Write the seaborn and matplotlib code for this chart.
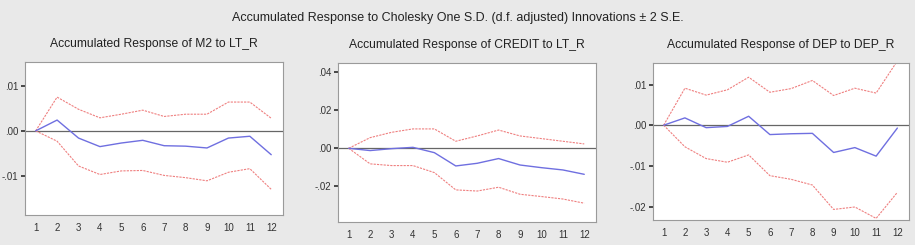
import matplotlib
matplotlib.use("Agg")
import matplotlib.pyplot as plt
import pandas as pd
import seaborn as sns

# Periods (x axis)
periods = list(range(1, 13))

# Panel 1: M2 to LT_R
m2_resp = [0.0, 0.0024, -0.0016, -0.0035, -0.0027, -0.0021, -0.0033, -0.0034, -0.0038, -0.0016, -0.0012, -0.0053]
m2_upper = [0.0, 0.0075, 0.0048, 0.0029, 0.0037, 0.0046, 0.0032, 0.0037, 0.0037, 0.0064, 0.0064, 0.0028]
m2_lower = [0.0, -0.0023, -0.0078, -0.0097, -0.0089, -0.0088, -0.0099, -0.0104, -0.0111, -0.0092, -0.0084, -0.0130]

# Panel 2: CREDIT to LT_R
credit_resp = [0.0, -0.0012, -0.0002, 0.0005, -0.0023, -0.0093, -0.0079, -0.0054, -0.0088, -0.0102, -0.0114, -0.0137]
credit_upper = [0.0, 0.0056, 0.0084, 0.0102, 0.0102, 0.0037, 0.0065, 0.0096, 0.0065, 0.0051, 0.0037, 0.0023]
credit_lower = [0.0, -0.0082, -0.0091, -0.0091, -0.0128, -0.0219, -0.0225, -0.0205, -0.0242, -0.0254, -0.0267, -0.0289]

# Panel 3: DEP to DEP_R
dep_resp = [0.0, 0.0018, -0.0006, -0.0003, 0.0022, -0.0023, -0.0021, -0.0020, -0.0067, -0.0055, -0.0076, -0.0007]
dep_upper = [0.0, 0.0091, 0.0074, 0.0087, 0.0118, 0.0081, 0.0090, 0.0110, 0.0073, 0.0091, 0.0079, 0.0158]
dep_lower = [0.0, -0.0053, -0.0082, -0.0091, -0.0073, -0.0124, -0.0133, -0.0147, -0.0207, -0.0201, -0.0229, -0.0165]

titles = ["Accumulated Response of M2 to LT_R",
          "Accumulated Response of CREDIT to LT_R",
          "Accumulated Response of DEP to DEP_R"]
y_ticks = [[0.01, 0.0, -0.01],
           [0.04, 0.02, 0.0, -0.02],
           [0.01, 0.0, -0.01, -0.02]]
y_ticklabels = [[".01", ".00", "-.01"],
                [".04", ".02", ".00", "-.02"],
                [".01", ".00", "-.01", "-.02"]]
y_limits = [(-0.0187, 0.0153), (-0.0388, 0.0449), (-0.0233, 0.0153)]

panels = [(m2_resp, m2_upper, m2_lower),
          (credit_resp, credit_upper, credit_lower),
          (dep_resp, dep_upper, dep_lower)]

rects = [[0.0273, 0.1224, 0.282, 0.6245],
         [0.3694, 0.0939, 0.282, 0.649],
         [0.7137, 0.102, 0.2798, 0.641]]

sns.set_theme(style="white")
plt.rcParams['font.family'] = ['Liberation Sans', 'DejaVu Sans']

bg = "#e9e9e9"
fig = plt.figure(figsize=(9.15, 2.45), dpi=100, facecolor=bg)

fig.text(0.5, 0.925, "Accumulated Response to Cholesky One S.D. (d.f. adjusted) Innovations \u00b1 2 S.E.",
         ha="center", va="center", fontsize=9.0, color="#222222",
         family=['Liberation Sans Narrow', 'Liberation Sans', 'DejaVu Sans'])

for i, (resp, upper, lower) in enumerate(panels):
    ax = fig.add_axes(rects[i])
    ax.set_facecolor("white")
    df = pd.DataFrame({"period": periods, "resp": resp, "upper": upper, "lower": lower})

    ax.axhline(0, color="#666666", lw=0.9, zorder=1)
    sns.lineplot(data=df, x="period", y="resp", ax=ax, color="#6f6fe0", lw=1.0, zorder=3)
    sns.lineplot(data=df, x="period", y="upper", ax=ax, color="#ef8080", lw=0.8,
                 linestyle=(0, (2, 1)), zorder=2)
    sns.lineplot(data=df, x="period", y="lower", ax=ax, color="#ef8080", lw=0.8,
                 linestyle=(0, (2, 1)), zorder=2)

    ax.set_xlim(0.5, 12.55)
    ax.set_ylim(*y_limits[i])
    ax.set_xticks(periods)
    ax.set_xticklabels([str(p) for p in periods])
    ax.set_xticks([p + 0.5 for p in range(0, 13)], minor=True)
    ax.tick_params(axis="x", which="major", length=0, labelsize=7, pad=6, colors="#333333")
    ax.tick_params(axis="x", which="minor", length=3, direction="out", color="#777777", width=0.7)
    ax.set_yticks(y_ticks[i])
    ax.set_yticklabels(y_ticklabels[i])
    ax.tick_params(axis="y", length=3, direction="out", labelsize=7, pad=2, colors="#333333",
                   left=True)
    ax.set_xlabel("")
    ax.set_ylabel("")
    for side in ["top", "right", "left", "bottom"]:
        ax.spines[side].set_color("#9a9a9a")
        ax.spines[side].set_linewidth(0.8)
    ax.set_title(titles[i], fontsize=8.7, color="#222222", pad=11)

fig.savefig("out.png", dpi=100, facecolor=bg)
